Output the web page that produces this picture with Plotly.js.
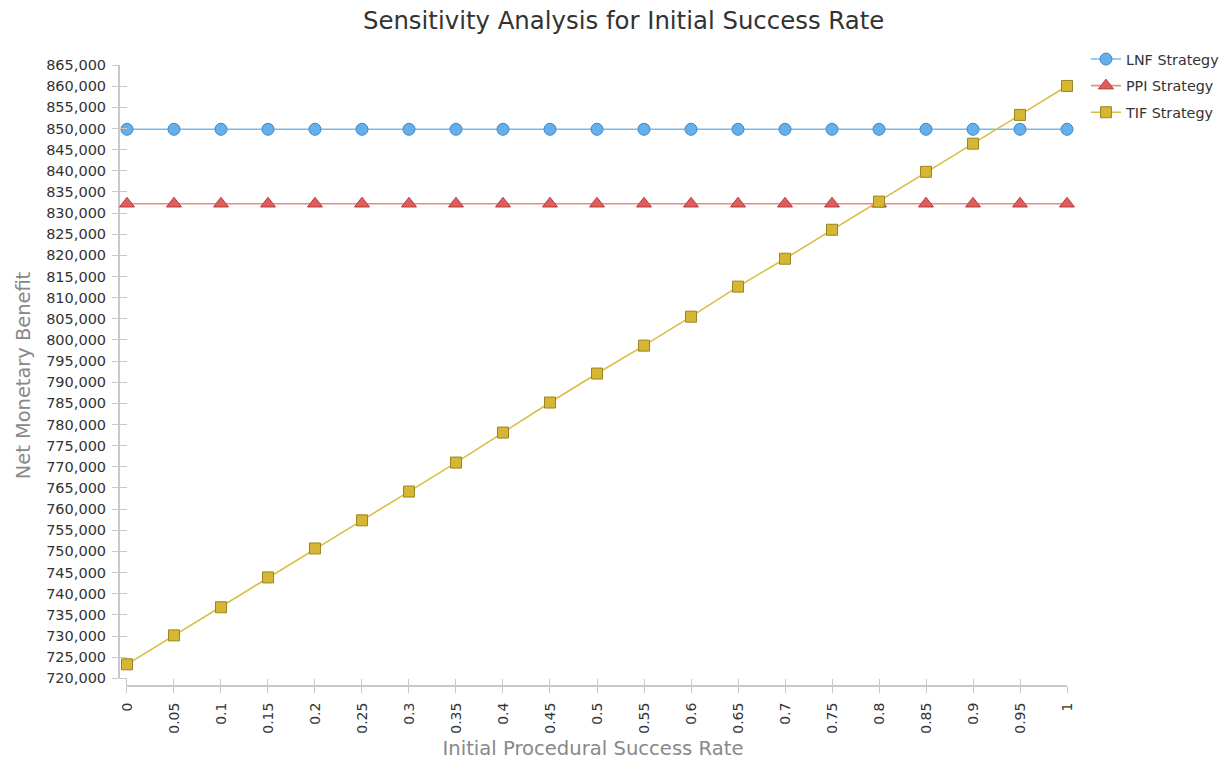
<!DOCTYPE html>
<html>
<head>
<meta charset="utf-8">
<script src="https://cdn.plot.ly/plotly-3.0.1.min.js"></script>
<style>html,body{margin:0;padding:0;background:#fff;}#chart{width:1230px;height:766px;}</style>
</head>
<body>
<div id="chart"></div>
<script>
const successRate = [0, 0.05, 0.1, 0.15, 0.2, 0.25, 0.3, 0.35, 0.4, 0.45, 0.5, 0.55, 0.6, 0.65, 0.7, 0.75, 0.8, 0.85, 0.9, 0.95, 1];
const tickLabels = ['0','0.05','0.1','0.15','0.2','0.25','0.3','0.35','0.4','0.45','0.5','0.55','0.6','0.65','0.7','0.75','0.8','0.85','0.9','0.95','1'];
const lnfValues = [849800,849800,849800,849800,849800,849800,849800,849800,849800,849800,849800,849800,849800,849800,849800,849800,849800,849800,849800,849800,849800];
const ppiValues = [832200,832200,832200,832200,832200,832200,832200,832200,832200,832200,832200,832200,832200,832200,832200,832200,832200,832200,832200,832200,832200];
const tifValues = [723300,730150,736800,743850,750700,757350,764150,771000,778100,785200,792050,798650,805500,812600,819200,826050,832700,839750,846400,853200,860050];
const yTickVals = [];
for (let v = 720000; v <= 865000; v += 5000) yTickVals.push(v);

const font = '"DejaVu Sans", Verdana, sans-serif';

function series(name, y, fill, border, line, symbol, size) {
  return {
    type: 'scatter', mode: 'lines+markers', name: name, x: successRate, y: y,
    legendgroup: name, cliponaxis: false,
    line: {color: line, width: 1.6},
    marker: {symbol: symbol, size: size, color: fill, line: {color: border, width: 1}}
  };
}

const traces = [
  series('LNF Strategy', lnfValues, '#64b0ec', '#3f86c6', '#7ab9ee', 'circle', 12),
  series('PPI Strategy', ppiValues, '#df5d5a', '#b2403d', '#e98a88', 'triangle-up', 13),
  series('TIF Strategy', tifValues, '#d6b632', '#9c8420', '#d9bd45', 'square', 11)
];

const axisCol = '#c8c8c8';
const layout = {
  width: 1230, height: 766,
  margin: {l: 119, r: 163, t: 65, b: 80, autoexpand: false},
  paper_bgcolor: '#fff', plot_bgcolor: '#fff',
  font: {family: font, color: '#333'},
  title: {text: 'Sensitivity Analysis for Initial Success Rate', font: {family: font, size: 24.4, color: '#333'},
          x: 0.507, xref: 'container', xanchor: 'center', y: 0.973, yanchor: 'middle'},
  showlegend: true,
  legend: {x: 1.020, y: 1.035, xanchor: 'left', yanchor: 'top', traceorder: 'grouped', tracegroupgap: 5,
           font: {family: font, size: 14.3, color: '#333'}, bgcolor: 'rgba(0,0,0,0)'},
  xaxis: {
    range: [-0.0085, 1.0], tickmode: 'array', tickvals: successRate, ticktext: tickLabels,
    tickangle: -90, ticks: 'outside', ticklen: 6, tickcolor: axisCol, tickwidth: 1,
    showgrid: false, zeroline: false, showline: false, ticklabelstandoff: 4,
    tickfont: {family: font, size: 14, color: '#333'},
    title: {text: 'Initial Procedural Success Rate', font: {family: font, size: 19.6, color: '#888'}, standoff: 8}
  },
  xaxis2: {
    overlaying: 'x', anchor: 'y', side: 'bottom', matches: 'x', tickmode: 'array', tickvals: successRate,
    ticks: 'inside', ticklen: 7, tickcolor: axisCol, tickwidth: 1, showticklabels: false,
    showgrid: false, zeroline: false, showline: false
  },
  yaxis: {
    range: [718180, 865000], tickmode: 'array', tickvals: yTickVals,
    tickformat: ',d', ticks: 'outside', ticklen: 6, tickcolor: axisCol, tickwidth: 1,
    showgrid: false, zeroline: false, showline: false, ticklabelstandoff: 3,
    tickfont: {family: font, size: 14.5, color: '#333'},
    title: {text: 'Net Monetary Benefit', font: {family: font, size: 19.4, color: '#888'}, standoff: 10}
  },
  yaxis2: {
    overlaying: 'y', anchor: 'x', side: 'left', matches: 'y', tickmode: 'array', tickvals: yTickVals,
    ticks: 'inside', ticklen: 8, tickcolor: axisCol, tickwidth: 1, showticklabels: false,
    showgrid: false, zeroline: false, showline: false
  },
  shapes: [
    {type: 'line', xref: 'paper', yref: 'y', x0: 0, x1: 0, y0: 720000, y1: 865000, line: {color: axisCol, width: 2}, layer: 'below'},
    {type: 'line', xref: 'x', yref: 'paper', x0: 0, x1: 1, y0: 0, y1: 0, line: {color: axisCol, width: 2}, layer: 'below'}
  ]
};

const dummy = [
  {type: 'scatter', x: [0], y: [720000], xaxis: 'x2', yaxis: 'y', showlegend: false, hoverinfo: 'skip', mode: 'markers', marker: {opacity: 0}},
  {type: 'scatter', x: [0], y: [720000], xaxis: 'x', yaxis: 'y2', showlegend: false, hoverinfo: 'skip', mode: 'markers', marker: {opacity: 0}}
];

Plotly.newPlot('chart', dummy.concat(traces), layout, {displayModeBar: false, staticPlot: true});
</script>
</body>
</html>
